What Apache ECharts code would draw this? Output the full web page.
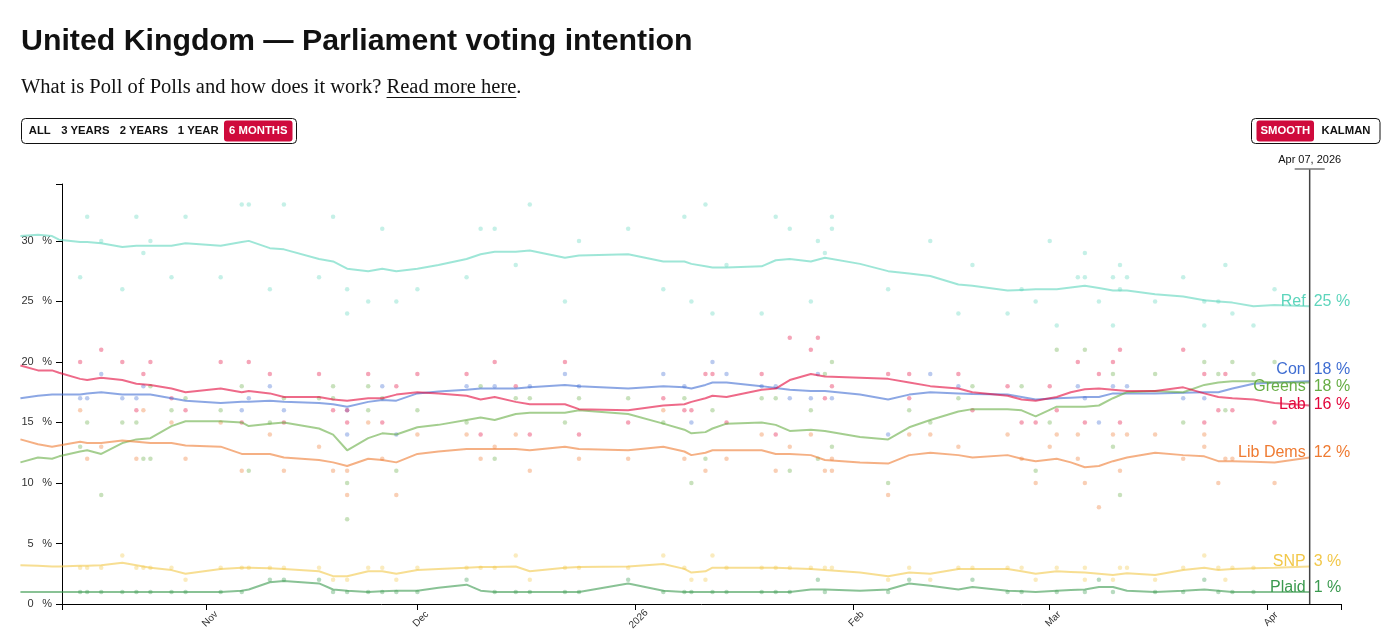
<!DOCTYPE html>
<html><head><meta charset="utf-8">
<script src="https://cdn.jsdelivr.net/npm/echarts@6.0.0/dist/echarts.min.js"></script>
<style>html,body{margin:0;padding:0;background:#fff;}#c{width:1393px;height:638px;}</style>
</head><body><div id="c"></div>
<script>
// ---------- DATA ----------
const axisStart = '2025-10-11T10:00';
const axisEnd = '2026-04-11T11:00';
const monthTicks = ['2025-11-01','2025-12-01','2026-01-01','2026-02-01','2026-03-01','2026-04-01'];
const monthLabels = ['Nov','Dec','2026','Feb','Mar','Apr'];
const yTicks = [0,5,10,15,20,25,30];
const yMax = 34.7;

const lineDates = [
'2025-10-05T12:00','2025-10-08','2025-10-10','2025-10-11','2025-10-14','2025-10-15','2025-10-17','2025-10-20','2025-10-22','2025-10-24','2025-10-27','2025-10-29',
'2025-11-03','2025-11-06','2025-11-07','2025-11-10','2025-11-12','2025-11-17','2025-11-19','2025-11-21','2025-11-24','2025-11-26','2025-11-28',
'2025-12-01','2025-12-04','2025-12-08','2025-12-10','2025-12-12','2025-12-15','2025-12-17','2025-12-22','2025-12-24','2025-12-31',
'2026-01-05','2026-01-08','2026-01-09','2026-01-11','2026-01-12','2026-01-14','2026-01-19','2026-01-21','2026-01-23','2026-01-26','2026-01-28',
'2026-02-02','2026-02-06','2026-02-09','2026-02-12','2026-02-16','2026-02-18','2026-02-23','2026-02-25','2026-02-27',
'2026-03-02','2026-03-04','2026-03-06','2026-03-08','2026-03-10','2026-03-12','2026-03-16','2026-03-20','2026-03-23','2026-03-25','2026-03-27','2026-03-30',
'2026-04-02','2026-04-07'];

const refLine = [30.4,30.5,30.4,30.1,29.9,29.9,29.8,29.5,29.6,29.6,29.6,29.8,
29.6,29.9,30.0,29.4,29.3,28.5,28.3,27.7,27.5,27.7,27.5,
27.7,28.0,28.5,28.9,29.1,29.1,29.2,28.6,28.8,28.9,
28.3,28.3,28.1,27.9,27.8,27.8,27.9,28.4,28.5,28.3,28.6,
28.1,27.5,27.3,27.1,26.4,26.3,25.9,25.95,26.0,
26.0,26.15,26.3,26.1,25.9,25.9,25.6,25.4,25.1,25.0,24.9,24.6,
24.7,24.6];
const conLine = [17.0,17.2,17.3,17.3,17.3,17.4,17.5,17.3,17.3,17.3,17.0,16.8,
16.6,16.7,16.7,16.8,16.7,16.6,16.5,16.3,16.7,16.85,16.8,
17.4,17.55,17.7,17.8,17.8,17.8,17.9,18.1,18.0,17.8,
18.0,17.9,17.8,18.1,18.3,18.3,18.0,17.85,17.7,17.6,17.6,
17.3,16.9,17.3,17.5,17.4,17.35,17.3,17.1,16.9,
17.0,17.05,17.1,17.1,17.4,17.4,17.4,17.45,17.5,17.5,17.8,18.2,
18.3,18.4];
const greensLine = [11.7,12.1,12.0,12.2,12.6,12.7,12.4,13.3,13.6,13.7,14.7,15.1,
15.1,15.0,14.7,14.9,15.0,14.5,14.0,12.7,13.7,14.1,14.0,
14.6,14.8,15.2,15.4,15.2,15.7,15.8,15.8,16.0,15.7,
14.9,14.4,14.1,14.2,14.5,14.9,15.0,14.8,14.3,14.4,14.3,
13.8,13.6,14.6,15.2,15.9,16.1,16.1,16.0,15.5,
16.3,16.3,16.3,16.4,17.0,17.5,17.6,17.5,18.1,18.3,18.4,18.4,
18.3,18.3];
const labLine = [19.7,19.3,19.3,19.1,18.6,18.5,18.7,18.5,18.2,18.1,17.8,17.5,
17.8,17.5,17.6,17.4,17.1,17.1,16.9,16.8,17.0,17.0,17.3,
17.5,17.4,17.2,16.9,17.1,16.7,16.5,16.5,16.1,16.0,
16.4,16.5,16.7,17.0,17.2,17.1,17.7,17.8,18.5,19.0,18.8,
18.7,18.6,18.3,18.0,17.8,17.5,17.2,16.9,16.8,
17.1,17.5,17.75,17.8,17.7,17.6,17.6,17.9,17.4,17.1,17.0,16.9,
16.6,16.4];
const ldLine = [13.6,13.2,13.0,13.1,13.4,13.3,13.3,13.5,13.4,13.3,13.3,13.1,
13.0,12.4,12.4,12.4,12.1,11.9,11.7,11.4,12.0,11.9,11.7,
12.4,12.6,12.8,12.8,12.8,12.8,12.7,13.0,12.8,12.7,
13.0,12.6,12.3,12.5,12.7,12.7,12.7,12.4,12.4,12.3,11.9,
11.7,11.6,12.3,12.5,12.3,12.1,12.3,12.0,11.8,
12.0,11.7,11.3,11.4,11.8,12.1,12.5,12.3,12.2,11.8,11.8,11.75,
11.7,12.1];
const snpLine = [3.2,3.15,3.1,3.1,3.15,3.15,3.2,3.4,3.2,3.0,2.8,2.5,
2.9,3.0,3.0,2.95,2.9,2.7,2.3,2.3,2.7,2.7,2.5,
2.8,2.9,3.0,3.05,3.05,3.1,2.7,3.0,3.05,3.1,
3.3,2.9,2.6,2.7,3.0,3.0,3.0,3.0,2.95,2.9,2.8,
2.6,2.3,2.6,2.5,2.9,2.9,2.9,2.7,2.5,
2.7,2.65,2.6,2.5,2.4,2.55,2.4,2.8,3.0,2.8,2.9,2.95,
3.0,3.1];
const plaidLine = [1.0,1.0,1.0,1.0,1.0,1.0,1.0,1.0,1.0,1.0,1.0,1.0,
1.0,1.1,1.2,1.8,1.9,1.7,1.2,1.1,1.0,1.05,1.1,
1.1,1.35,1.6,1.1,1.0,1.0,1.0,1.0,1.0,1.7,
1.1,1.0,1.0,1.0,1.0,1.0,1.0,1.0,1.0,1.2,1.2,
1.1,1.2,1.7,1.5,1.2,1.4,1.1,1.05,1.0,
1.1,1.15,1.2,1.4,1.4,1.1,1.0,1.1,1.2,1.1,1.0,1.0,
1.0,1.0];

const refPolls = [['2025-10-14',27],['2025-10-15',32],['2025-10-17',30],['2025-10-20',26],['2025-10-22',32],['2025-10-23',29],['2025-10-24',30],['2025-10-27',27],['2025-10-29',32],['2025-11-03',27],['2025-11-06',33],['2025-11-07',33],['2025-11-10',26],['2025-11-12',33],['2025-11-17',27],['2025-11-19',32],['2025-11-21',26],['2025-11-21',24],['2025-11-24',25],['2025-11-26',31],['2025-11-28',25],['2025-12-01',26],['2025-12-08',27],['2025-12-10',31],['2025-12-12',31],['2025-12-15',28],['2025-12-17',33],['2025-12-22',25],['2025-12-24',30],['2025-12-31',31],['2026-01-05',26],['2026-01-08',32],['2026-01-09',25],['2026-01-11',33],['2026-01-12',24],['2026-01-14',28],['2026-01-19',24],['2026-01-21',32],['2026-01-23',31],['2026-01-26',25],['2026-01-27',30],['2026-01-28',29],['2026-01-29',32],['2026-01-29',31],['2026-02-06',26],['2026-02-12',30],['2026-02-16',24],['2026-02-18',28],['2026-02-23',24],['2026-02-25',26],['2026-02-27',25],['2026-03-01',30],['2026-03-02',23],['2026-03-05',27],['2026-03-06',27],['2026-03-06',29],['2026-03-08',25],['2026-03-10',27],['2026-03-10',23],['2026-03-11',28],['2026-03-11',26],['2026-03-12',27],['2026-03-16',25],['2026-03-20',27],['2026-03-23',25],['2026-03-23',23],['2026-03-25',25],['2026-03-26',28],['2026-03-27',24],['2026-03-30',23],['2026-04-02',26]];
const conPolls = [['2025-10-14',17],['2025-10-15',17],['2025-10-17',19],['2025-10-20',17],['2025-10-22',17],['2025-10-23',18],['2025-11-06',16],['2025-11-07',17],['2025-11-10',18],['2025-11-12',16],['2025-11-21',16],['2025-11-21',14],['2025-11-26',18],['2025-11-28',14],['2025-12-08',18],['2025-12-12',18],['2025-12-17',18],['2025-12-22',19],['2025-12-24',18],['2026-01-05',19],['2026-01-08',18],['2026-01-09',15],['2026-01-12',20],['2026-01-14',19],['2026-01-19',18],['2026-01-21',18],['2026-01-23',17],['2026-01-26',17],['2026-01-27',19],['2026-01-29',17],['2026-02-06',14],['2026-02-12',19],['2026-02-16',18],['2026-03-05',18],['2026-03-06',17],['2026-03-08',15],['2026-03-10',18],['2026-03-12',18],['2026-03-20',17],['2026-03-23',17]];
const greensPolls = [['2025-10-14',13],['2025-10-15',15],['2025-10-17',9],['2025-10-20',15],['2025-10-22',15],['2025-10-23',12],['2025-10-24',12],['2025-10-24',18],['2025-10-27',16],['2025-10-29',17],['2025-11-03',16],['2025-11-06',18],['2025-11-07',11],['2025-11-10',15],['2025-11-12',17],['2025-11-17',17],['2025-11-19',18],['2025-11-19',17],['2025-11-21',10],['2025-11-21',7],['2025-11-24',18],['2025-11-24',16],['2025-11-26',17],['2025-11-28',11],['2025-12-01',16],['2025-12-08',15],['2025-12-10',18],['2025-12-12',12],['2025-12-15',17],['2025-12-17',17],['2025-12-22',15],['2025-12-24',17],['2025-12-31',17],['2026-01-05',15],['2026-01-08',17],['2026-01-09',10],['2026-01-11',12],['2026-01-12',16],['2026-01-19',17],['2026-01-21',17],['2026-01-23',11],['2026-01-26',16],['2026-01-27',12],['2026-01-28',19],['2026-01-29',20],['2026-01-29',13],['2026-02-06',10],['2026-02-09',16],['2026-02-12',15],['2026-02-16',17],['2026-02-18',18],['2026-02-25',18],['2026-02-27',11],['2026-03-01',15],['2026-03-02',21],['2026-03-06',21],['2026-03-10',19],['2026-03-10',13],['2026-03-11',9],['2026-03-16',19],['2026-03-20',15],['2026-03-23',20],['2026-03-25',19],['2026-03-26',16],['2026-03-27',20],['2026-03-30',19],['2026-04-02',20]];
const labPolls = [['2025-10-14',20],['2025-10-17',21],['2025-10-20',20],['2025-10-22',16],['2025-10-23',19],['2025-10-24',20],['2025-10-27',17],['2025-10-29',16],['2025-11-03',20],['2025-11-06',15],['2025-11-07',20],['2025-11-10',19],['2025-11-12',15],['2025-11-17',19],['2025-11-19',16],['2025-11-21',16],['2025-11-21',15],['2025-11-24',19],['2025-11-26',15],['2025-11-28',18],['2025-12-01',19],['2025-12-08',19],['2025-12-10',14],['2025-12-12',20],['2025-12-15',18],['2025-12-17',14],['2025-12-22',20],['2025-12-24',14],['2025-12-31',15],['2026-01-05',17],['2026-01-08',16],['2026-01-09',16],['2026-01-11',19],['2026-01-12',19],['2026-01-14',15],['2026-01-19',19],['2026-01-21',14],['2026-01-23',22],['2026-01-26',21],['2026-01-27',22],['2026-01-28',17],['2026-01-29',18],['2026-02-06',19],['2026-02-09',19],['2026-02-09',17],['2026-02-16',19],['2026-02-18',16],['2026-02-23',18],['2026-02-25',15],['2026-02-27',15],['2026-03-01',18],['2026-03-02',16],['2026-03-05',20],['2026-03-06',15],['2026-03-08',19],['2026-03-10',20],['2026-03-11',21],['2026-03-11',15],['2026-03-20',21],['2026-03-23',19],['2026-03-23',15],['2026-03-25',16],['2026-03-26',19],['2026-03-27',16],['2026-04-02',15]];
const ldPolls = [['2025-10-14',16],['2025-10-15',12],['2025-10-17',13],['2025-10-22',12],['2025-10-23',16],['2025-10-27',15],['2025-10-29',12],['2025-11-03',15],['2025-11-06',11],['2025-11-10',14],['2025-11-12',11],['2025-11-17',13],['2025-11-19',11],['2025-11-21',11],['2025-11-21',9],['2025-11-24',15],['2025-11-26',12],['2025-11-28',9],['2025-12-01',14],['2025-12-08',14],['2025-12-10',12],['2025-12-12',13],['2025-12-15',14],['2025-12-17',11],['2025-12-24',12],['2025-12-31',12],['2026-01-05',16],['2026-01-08',12],['2026-01-11',11],['2026-01-14',12],['2026-01-19',14],['2026-01-21',11],['2026-01-23',13],['2026-01-26',14],['2026-01-28',11],['2026-01-29',12],['2026-01-29',11],['2026-02-06',9],['2026-02-09',14],['2026-02-12',14],['2026-02-16',13],['2026-02-23',14],['2026-02-25',12],['2026-02-27',10],['2026-03-01',13],['2026-03-02',14],['2026-03-05',14],['2026-03-05',12],['2026-03-06',10],['2026-03-08',8],['2026-03-10',14],['2026-03-11',11],['2026-03-12',14],['2026-03-16',14],['2026-03-20',12],['2026-03-23',14],['2026-03-23',13],['2026-03-25',10],['2026-03-26',12],['2026-03-27',12],['2026-04-02',10]];
const snpPolls = [['2025-10-14',3],['2025-10-15',3],['2025-10-17',3],['2025-10-20',4],['2025-10-22',3],['2025-10-23',3],['2025-10-24',3],['2025-10-27',3],['2025-10-29',2],['2025-11-03',3],['2025-11-06',3],['2025-11-07',3],['2025-11-10',3],['2025-11-12',3],['2025-11-17',3],['2025-11-19',2],['2025-11-21',2],['2025-11-24',3],['2025-11-26',3],['2025-11-28',2],['2025-12-01',3],['2025-12-08',3],['2025-12-10',3],['2025-12-12',3],['2025-12-15',4],['2025-12-17',2],['2025-12-22',3],['2025-12-24',3],['2025-12-31',3],['2026-01-05',4],['2026-01-08',3],['2026-01-09',2],['2026-01-11',2],['2026-01-12',4],['2026-01-14',3],['2026-01-19',3],['2026-01-21',3],['2026-01-23',3],['2026-01-26',3],['2026-01-28',3],['2026-01-29',3],['2026-02-06',2],['2026-02-09',3],['2026-02-12',2],['2026-02-16',3],['2026-02-18',3],['2026-02-23',3],['2026-02-25',3],['2026-02-27',2],['2026-03-02',3],['2026-03-06',3],['2026-03-06',2],['2026-03-10',2],['2026-03-11',3],['2026-03-12',3],['2026-03-16',2],['2026-03-20',3],['2026-03-23',4],['2026-03-25',3],['2026-03-26',2],['2026-03-27',3],['2026-03-30',3]];
const plaidPolls = [['2025-10-14',1],['2025-10-15',1],['2025-10-17',1],['2025-10-20',1],['2025-10-22',1],['2025-10-24',1],['2025-10-27',1],['2025-10-29',1],['2025-11-03',1],['2025-11-06',1],['2025-11-10',2],['2025-11-12',2],['2025-11-17',2],['2025-11-19',1],['2025-11-21',1],['2025-11-24',1],['2025-11-26',1],['2025-11-28',1],['2025-12-01',1],['2025-12-08',2],['2025-12-12',1],['2025-12-15',1],['2025-12-17',1],['2025-12-22',1],['2025-12-24',1],['2025-12-31',2],['2026-01-05',1],['2026-01-08',1],['2026-01-09',1],['2026-01-12',1],['2026-01-14',1],['2026-01-19',1],['2026-01-21',1],['2026-01-23',1],['2026-01-27',2],['2026-01-28',1],['2026-02-06',1],['2026-02-09',2],['2026-02-18',2],['2026-02-23',1],['2026-02-25',1],['2026-03-02',1],['2026-03-06',1],['2026-03-08',2],['2026-03-10',1],['2026-03-16',1],['2026-03-20',1],['2026-03-23',2],['2026-03-25',1],['2026-03-27',1],['2026-03-30',1]];

const partyNames = ['Ref','Con','Greens','Lab','Lib Dems','SNP','Plaid'];
const partyColors = ['#5dd5bc','#3f6dd2','#67ad45','#e2063b','#ef7b32','#f2c84a','#3b9a4f'];
const partyLines = [refLine, conLine, greensLine, labLine, ldLine, snpLine, plaidLine];
const partyPolls = [refPolls, conPolls, greensPolls, labPolls, ldPolls, snpPolls, plaidPolls];

// ---------- CHART ----------
function parseT(s){const p=s.split(/[-T:]/).map(Number);return new Date(p[0],p[1]-1,p[2],p[3]||0,p[4]||0).getTime();}
const xMin = parseT(axisStart), xMax = parseT(axisEnd);
const monthT = monthTicks.map(parseT);
const SANS = '"Liberation Sans", Arial, sans-serif';

// layout: the drawing grid reaches left of the visible y axis
const W = 1393, AXIS_LEFT = 62, DATA_LEFT = 20, RIGHT = 52, TOP = 184, BOTTOM = 34;
const msPerPx = (xMax - xMin) / (W - RIGHT - AXIS_LEFT);
const xMinData = xMin - (AXIS_LEFT - DATA_LEFT) * msPerPx;

const chart = echarts.init(document.getElementById('c'), null, {renderer:'canvas'});
const series = [];
partyNames.forEach((n,i)=>{
  series.push({type:'scatter', name:n+' polls', xAxisIndex:0, yAxisIndex:0,
    data: partyPolls[i].map(p=>[parseT(p[0]),p[1]]),
    symbolSize:4.5, itemStyle:{color:partyColors[i], opacity:0.36}, z:2, silent:true});
});
partyNames.forEach((n,i)=>{
  series.push({type:'line', name:n, xAxisIndex:0, yAxisIndex:0,
    data: lineDates.map((d,k)=>[parseT(d), partyLines[i][k]]),
    showSymbol:false, symbol:'none', lineStyle:{width:2, color:partyColors[i], opacity:0.6}, z:3, silent:true});
});

chart.setOption({
  animation:false,
  textStyle:{fontFamily:SANS},
  grid:[
    {left:DATA_LEFT, right:RIGHT, top:TOP, bottom:BOTTOM},
    {left:AXIS_LEFT, right:RIGHT, top:TOP, bottom:BOTTOM}
  ],
  xAxis:[
    {type:'value', gridIndex:0, min:xMinData, max:xMax, show:false},
    {type:'value', gridIndex:1, min:xMin, max:xMax,
      axisLine:{show:true, lineStyle:{color:'#000', width:1}},
      axisTick:{show:true, length:6, lineStyle:{color:'#000'}, customValues:[xMin].concat(monthT, [xMax])},
      axisLabel:{show:false},
      splitLine:{show:false}}
  ],
  yAxis:[
    {type:'value', gridIndex:0, min:0, max:yMax, show:false},
    {type:'value', gridIndex:1, min:0, max:yMax,
      axisLine:{show:true, lineStyle:{color:'#000', width:1}},
      axisTick:{show:true, length:6, lineStyle:{color:'#000'}, customValues:yTicks.concat([yMax])},
      axisLabel:{customValues:yTicks, formatter:(v)=>v+'\u2002 %', margin:10, fontSize:11, color:'#333'},
      splitLine:{show:false}}
  ],
  series
});

// ---------- ANNOTATIONS ----------
const ctx = document.createElement('canvas').getContext('2d');
function tw(text, font){ctx.font=font;return ctx.measureText(text).width;}
const g = [];
g.push({type:'text', x:21, y:42, silent:true, style:{text:'United Kingdom — Parliament voting intention', font:'bold 30.3px '+SANS, fill:'#111', textAlign:'left', textVerticalAlign:'middle'}});
const subFont = '20.5px "Liberation Serif", "DejaVu Serif", serif';
const sub1 = 'What is Poll of Polls and how does it work? ';
const sub2 = 'Read more here';
const w1 = tw(sub1, subFont), w2 = tw(sub2, subFont);
const subY = 88;
g.push({type:'text', x:21, y:subY, silent:true, style:{text:sub1, font:subFont, fill:'#111', textAlign:'left', textVerticalAlign:'middle'}});
g.push({type:'text', x:21+w1, y:subY, silent:true, style:{text:sub2, font:subFont, fill:'#111', textAlign:'left', textVerticalAlign:'middle'}});
g.push({type:'text', x:21+w1+w2, y:subY, silent:true, style:{text:'.', font:subFont, fill:'#111', textAlign:'left', textVerticalAlign:'middle'}});
g.push({type:'line', silent:true, shape:{x1:21+w1, y1:97.5, x2:21+w1+w2, y2:97.5}, style:{stroke:'#111', lineWidth:1.2}});

const btnFont = 'bold 11.3px '+SANS;
function box(x,y,w,h){g.push({type:'rect', silent:true, shape:{x,y,width:w,height:h,r:4}, style:{fill:'#fff', stroke:'#111', lineWidth:1}});}
function pill(x,y,w,h){g.push({type:'rect', silent:true, shape:{x,y,width:w,height:h,r:3}, style:{fill:'#cf0a3c'}});}
function btxt(t,cx,col){g.push({type:'text', x:cx, y:131, silent:true, style:{text:t, font:btnFont, fill:col, textAlign:'center', textVerticalAlign:'middle'}});}
box(21.5,118.5,275,25);
pill(224,120.5,68.5,21);
btxt('ALL',39.7,'#111'); btxt('3 YEARS',85.3,'#111'); btxt('2 YEARS',143.8,'#111'); btxt('1 YEAR',198.2,'#111'); btxt('6 MONTHS',258.3,'#fff');
box(1251.5,118.5,128.5,25);
pill(1256.5,120.5,57.5,21);
btxt('SMOOTH',1285.3,'#fff'); btxt('KALMAN',1346,'#111');

// month labels on the visible x axis (rotated 45°)
const axisY = chart.convertToPixel({yAxisIndex:1}, 0);
monthT.forEach((t,k)=>{
  const px = chart.convertToPixel({xAxisIndex:1}, t);
  g.push({type:'text', x:px+3.5, y:axisY+15, rotation:Math.PI/4, silent:true,
    style:{text:monthLabels[k], font:'10px '+SANS, fill:'#333', textAlign:'center', textVerticalAlign:'middle'}});
});

const lastIdx = lineDates.length-1;
const lastT = parseT(lineDates[lastIdx]);
const lx = chart.convertToPixel({xAxisIndex:0}, lastT);
const y0 = chart.convertToPixel({yAxisIndex:0}, 0);
const topY = 169;
g.push({type:'line', silent:true, z:10, shape:{x1:lx, y1:topY, x2:lx, y2:y0}, style:{stroke:'#444', lineWidth:1.5}});
g.push({type:'line', silent:true, z:10, shape:{x1:lx-15, y1:topY, x2:lx+15, y2:topY}, style:{stroke:'#777', lineWidth:1.5}});
const MON = ['Jan','Feb','Mar','Apr','May','Jun','Jul','Aug','Sep','Oct','Nov','Dec'];
const ldt = new Date(lastT);
const dateTxt = MON[ldt.getMonth()]+' '+String(ldt.getDate()).padStart(2,'0')+', '+ldt.getFullYear();
g.push({type:'text', x:lx, y:160, silent:true, style:{text:dateTxt, font:'11px '+SANS, fill:'#111', textAlign:'center', textVerticalAlign:'middle'}});

const labs = partyNames.map((n,i)=>{
  const v = partyLines[i][lastIdx];
  return {i, n, v, y: chart.convertToPixel({yAxisIndex:0}, v) - 4.5};
}).sort((a,b)=>a.y-b.y);
const GAP = 17.5;
let groups = labs.map(l=>({items:[l]}));
function layoutGroup(gr){const n=gr.items.length;const mean=gr.items.reduce((s,l)=>s+l.y,0)/n;gr.start=mean-(n-1)*GAP/2;}
groups.forEach(layoutGroup);
let changed = true;
while(changed){
  changed=false;
  for(let k=0;k<groups.length-1;k++){
    const a=groups[k], b=groups[k+1];
    const aEnd=a.start+(a.items.length-1)*GAP;
    if(b.start-aEnd<GAP){a.items=a.items.concat(b.items);groups.splice(k+1,1);layoutGroup(a);changed=true;break;}
  }
}
const labFont = '16px '+SANS;
groups.forEach(gr=>gr.items.forEach((l,k)=>{
  const y = gr.start + k*GAP + (gr.items.length>1?1.5:0);
  g.push({type:'text', x:lx-4, y, silent:true, z:11, style:{text:l.n, font:labFont, fill:partyColors[l.i], textAlign:'right', textVerticalAlign:'middle'}});
  g.push({type:'text', x:lx+4, y, silent:true, z:11, style:{text:Math.round(l.v)+' %', font:labFont, fill:partyColors[l.i], textAlign:'left', textVerticalAlign:'middle'}});
}));

chart.setOption({graphic:g});
</script>
</body></html>
